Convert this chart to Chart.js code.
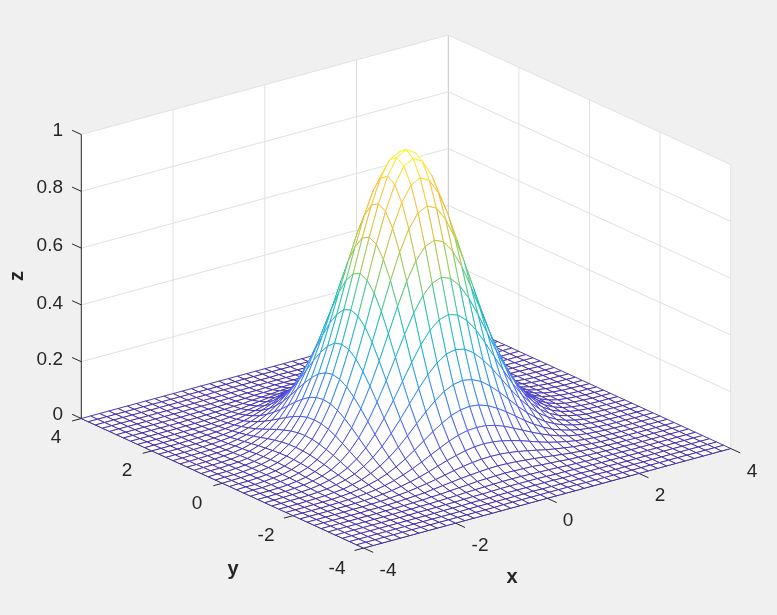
<!DOCTYPE html>
<html><head><meta charset="utf-8">
<style>html,body{margin:0;padding:0;background:#f0f0f0}canvas{display:block}</style>
<script src="https://cdn.jsdelivr.net/npm/chart.js@4"></script>
</head><body><canvas id="c" width="777" height="615"></canvas>
<script>
const xGrid=[-4,-3.8,-3.6,-3.4,-3.2,-3,-2.8,-2.6,-2.4,-2.2,-2,-1.8,-1.6,-1.4,-1.2,-1,-.8,-.6,-.4,-.2,0,.2,.4,.6,.8,1,1.2,1.4,1.6,1.8,2,2.2,2.4,2.6,2.8,3,3.2,3.4,3.6,3.8,4];
const yGrid=[-4,-3.8,-3.6,-3.4,-3.2,-3,-2.8,-2.6,-2.4,-2.2,-2,-1.8,-1.6,-1.4,-1.2,-1,-.8,-.6,-.4,-.2,0,.2,.4,.6,.8,1,1.2,1.4,1.6,1.8,2,2.2,2.4,2.6,2.8,3,3.2,3.4,3.6,3.8,4];
const zRows=[
[0,0,0,0,0,0,0,0,0,0,0,0,0,0,0,0,0,0,0,0,0,0,0,0,0,0,0,0,0,0,0,0,0,0,0,0,0,0,0,0,0],
[0,0,0,0,0,0,0,0,0,0,0,0,0,0,0,0,.001,.001,.001,.001,.001,.001,.001,.001,.001,0,0,0,0,0,0,0,0,0,0,0,0,0,0,0,0],
[0,0,0,0,0,0,0,0,0,0,0,0,0,.001,.001,.001,.001,.001,.001,.001,.002,.001,.001,.001,.001,.001,.001,.001,0,0,0,0,0,0,0,0,0,0,0,0,0],
[0,0,0,0,0,0,0,0,0,0,0,.001,.001,.001,.002,.002,.002,.003,.003,.003,.003,.003,.003,.003,.002,.002,.002,.001,.001,.001,0,0,0,0,0,0,0,0,0,0,0],
[0,0,0,0,0,0,0,0,0,.001,.001,.001,.002,.002,.003,.004,.004,.005,.006,.006,.006,.006,.006,.005,.004,.004,.003,.002,.002,.001,.001,.001,0,0,0,0,0,0,0,0,0],
[0,0,0,0,0,0,0,0,.001,.001,.002,.002,.003,.004,.005,.007,.008,.009,.010,.011,.011,.011,.010,.009,.008,.007,.005,.004,.003,.002,.002,.001,.001,0,0,0,0,0,0,0,0],
[0,0,0,0,0,0,0,.001,.001,.002,.003,.004,.006,.007,.010,.012,.014,.017,.018,.019,.020,.019,.018,.017,.014,.012,.010,.007,.006,.004,.003,.002,.001,.001,0,0,0,0,0,0,0],
[0,0,0,0,0,0,.001,.001,.002,.003,.005,.007,.009,.013,.017,.021,.025,.028,.031,.033,.034,.033,.031,.028,.025,.021,.017,.013,.009,.007,.005,.003,.002,.001,.001,0,0,0,0,0,0],
[0,0,0,0,0,.001,.001,.002,.003,.005,.008,.011,.016,.021,.027,.034,.041,.047,.052,.055,.056,.055,.052,.047,.041,.034,.027,.021,.016,.011,.008,.005,.003,.002,.001,.001,0,0,0,0,0],
[0,0,0,0,.001,.001,.002,.003,.005,.008,.012,.018,.025,.033,.043,.054,.065,.074,.082,.087,.089,.087,.082,.074,.065,.054,.043,.033,.025,.018,.012,.008,.005,.003,.002,.001,.001,0,0,0,0],
[0,0,0,0,.001,.002,.003,.005,.008,.012,.018,.027,.038,.051,.066,.082,.098,.113,.125,.133,.135,.133,.125,.113,.098,.082,.066,.051,.038,.027,.018,.012,.008,.005,.003,.002,.001,0,0,0,0],
[0,0,0,.001,.001,.002,.004,.007,.011,.018,.027,.039,.055,.074,.096,.120,.144,.165,.183,.194,.198,.194,.183,.165,.144,.120,.096,.074,.055,.039,.027,.018,.011,.007,.004,.002,.001,.001,0,0,0],
[0,0,0,.001,.002,.003,.006,.009,.016,.025,.038,.055,.077,.104,.135,.169,.202,.232,.257,.272,.278,.272,.257,.232,.202,.169,.135,.104,.077,.055,.038,.025,.016,.009,.006,.003,.002,.001,0,0,0],
[0,0,.001,.001,.002,.004,.007,.013,.021,.033,.051,.074,.104,.141,.183,.228,.273,.313,.346,.368,.375,.368,.346,.313,.273,.228,.183,.141,.104,.074,.051,.033,.021,.013,.007,.004,.002,.001,.001,0,0],
[0,0,.001,.002,.003,.005,.010,.017,.027,.043,.066,.096,.135,.183,.237,.295,.353,.407,.449,.477,.487,.477,.449,.407,.353,.295,.237,.183,.135,.096,.066,.043,.027,.017,.010,.005,.003,.002,.001,0,0],
[0,0,.001,.002,.004,.007,.012,.021,.034,.054,.082,.120,.169,.228,.295,.368,.440,.507,.560,.594,.607,.594,.560,.507,.440,.368,.295,.228,.169,.120,.082,.054,.034,.021,.012,.007,.004,.002,.001,0,0],
[0,.001,.001,.002,.004,.008,.014,.025,.041,.065,.098,.144,.202,.273,.353,.440,.527,.607,.670,.712,.726,.712,.670,.607,.527,.440,.353,.273,.202,.144,.098,.065,.041,.025,.014,.008,.004,.002,.001,.001,0],
[0,.001,.001,.003,.005,.009,.017,.028,.047,.074,.113,.165,.232,.313,.407,.507,.607,.698,.771,.819,.835,.819,.771,.698,.607,.507,.407,.313,.232,.165,.113,.074,.047,.028,.017,.009,.005,.003,.001,.001,0],
[0,.001,.001,.003,.006,.010,.018,.031,.052,.082,.125,.183,.257,.346,.449,.560,.670,.771,.852,.905,.923,.905,.852,.771,.670,.560,.449,.346,.257,.183,.125,.082,.052,.031,.018,.010,.006,.003,.001,.001,0],
[0,.001,.001,.003,.006,.011,.019,.033,.055,.087,.133,.194,.272,.368,.477,.594,.712,.819,.905,.961,.980,.961,.905,.819,.712,.594,.477,.368,.272,.194,.133,.087,.055,.033,.019,.011,.006,.003,.001,.001,0],
[0,.001,.002,.003,.006,.011,.020,.034,.056,.089,.135,.198,.278,.375,.487,.607,.726,.835,.923,.980,1,.980,.923,.835,.726,.607,.487,.375,.278,.198,.135,.089,.056,.034,.020,.011,.006,.003,.002,.001,0],
[0,.001,.001,.003,.006,.011,.019,.033,.055,.087,.133,.194,.272,.368,.477,.594,.712,.819,.905,.961,.980,.961,.905,.819,.712,.594,.477,.368,.272,.194,.133,.087,.055,.033,.019,.011,.006,.003,.001,.001,0],
[0,.001,.001,.003,.006,.010,.018,.031,.052,.082,.125,.183,.257,.346,.449,.560,.670,.771,.852,.905,.923,.905,.852,.771,.670,.560,.449,.346,.257,.183,.125,.082,.052,.031,.018,.010,.006,.003,.001,.001,0],
[0,.001,.001,.003,.005,.009,.017,.028,.047,.074,.113,.165,.232,.313,.407,.507,.607,.698,.771,.819,.835,.819,.771,.698,.607,.507,.407,.313,.232,.165,.113,.074,.047,.028,.017,.009,.005,.003,.001,.001,0],
[0,.001,.001,.002,.004,.008,.014,.025,.041,.065,.098,.144,.202,.273,.353,.440,.527,.607,.670,.712,.726,.712,.670,.607,.527,.440,.353,.273,.202,.144,.098,.065,.041,.025,.014,.008,.004,.002,.001,.001,0],
[0,0,.001,.002,.004,.007,.012,.021,.034,.054,.082,.120,.169,.228,.295,.368,.440,.507,.560,.594,.607,.594,.560,.507,.440,.368,.295,.228,.169,.120,.082,.054,.034,.021,.012,.007,.004,.002,.001,0,0],
[0,0,.001,.002,.003,.005,.010,.017,.027,.043,.066,.096,.135,.183,.237,.295,.353,.407,.449,.477,.487,.477,.449,.407,.353,.295,.237,.183,.135,.096,.066,.043,.027,.017,.010,.005,.003,.002,.001,0,0],
[0,0,.001,.001,.002,.004,.007,.013,.021,.033,.051,.074,.104,.141,.183,.228,.273,.313,.346,.368,.375,.368,.346,.313,.273,.228,.183,.141,.104,.074,.051,.033,.021,.013,.007,.004,.002,.001,.001,0,0],
[0,0,0,.001,.002,.003,.006,.009,.016,.025,.038,.055,.077,.104,.135,.169,.202,.232,.257,.272,.278,.272,.257,.232,.202,.169,.135,.104,.077,.055,.038,.025,.016,.009,.006,.003,.002,.001,0,0,0],
[0,0,0,.001,.001,.002,.004,.007,.011,.018,.027,.039,.055,.074,.096,.120,.144,.165,.183,.194,.198,.194,.183,.165,.144,.120,.096,.074,.055,.039,.027,.018,.011,.007,.004,.002,.001,.001,0,0,0],
[0,0,0,0,.001,.002,.003,.005,.008,.012,.018,.027,.038,.051,.066,.082,.098,.113,.125,.133,.135,.133,.125,.113,.098,.082,.066,.051,.038,.027,.018,.012,.008,.005,.003,.002,.001,0,0,0,0],
[0,0,0,0,.001,.001,.002,.003,.005,.008,.012,.018,.025,.033,.043,.054,.065,.074,.082,.087,.089,.087,.082,.074,.065,.054,.043,.033,.025,.018,.012,.008,.005,.003,.002,.001,.001,0,0,0,0],
[0,0,0,0,0,.001,.001,.002,.003,.005,.008,.011,.016,.021,.027,.034,.041,.047,.052,.055,.056,.055,.052,.047,.041,.034,.027,.021,.016,.011,.008,.005,.003,.002,.001,.001,0,0,0,0,0],
[0,0,0,0,0,0,.001,.001,.002,.003,.005,.007,.009,.013,.017,.021,.025,.028,.031,.033,.034,.033,.031,.028,.025,.021,.017,.013,.009,.007,.005,.003,.002,.001,.001,0,0,0,0,0,0],
[0,0,0,0,0,0,0,.001,.001,.002,.003,.004,.006,.007,.010,.012,.014,.017,.018,.019,.020,.019,.018,.017,.014,.012,.010,.007,.006,.004,.003,.002,.001,.001,0,0,0,0,0,0,0],
[0,0,0,0,0,0,0,0,.001,.001,.002,.002,.003,.004,.005,.007,.008,.009,.010,.011,.011,.011,.010,.009,.008,.007,.005,.004,.003,.002,.002,.001,.001,0,0,0,0,0,0,0,0],
[0,0,0,0,0,0,0,0,0,.001,.001,.001,.002,.002,.003,.004,.004,.005,.006,.006,.006,.006,.006,.005,.004,.004,.003,.002,.002,.001,.001,.001,0,0,0,0,0,0,0,0,0],
[0,0,0,0,0,0,0,0,0,0,0,.001,.001,.001,.002,.002,.002,.003,.003,.003,.003,.003,.003,.003,.002,.002,.002,.001,.001,.001,0,0,0,0,0,0,0,0,0,0,0],
[0,0,0,0,0,0,0,0,0,0,0,0,0,.001,.001,.001,.001,.001,.001,.001,.002,.001,.001,.001,.001,.001,.001,.001,0,0,0,0,0,0,0,0,0,0,0,0,0],
[0,0,0,0,0,0,0,0,0,0,0,0,0,0,0,0,.001,.001,.001,.001,.001,.001,.001,.001,.001,0,0,0,0,0,0,0,0,0,0,0,0,0,0,0,0],
[0,0,0,0,0,0,0,0,0,0,0,0,0,0,0,0,0,0,0,0,0,0,0,0,0,0,0,0,0,0,0,0,0,0,0,0,0,0,0,0,0]];
const xTicks=[-4,-2,0,2,4],yTicks=[-4,-2,0,2,4],zTicks=[0,.2,.4,.6,.8,1];
const parula=['#3e26a8','#4852f4','#2d87f7','#17aed5','#1fbfaa','#81cc59','#dcbc32','#fec236','#f9fb15'];
const O=[406,433.5],EX=[45.875,-12.44],EY=[-35.3,-16.19],EZ=[0,-284];
const P=(x,y,z)=>({x:O[0]+x*EX[0]+y*EY[0]+z*EZ[0],y:O[1]+x*EX[1]+y*EY[1]+z*EZ[1],z});
const h=s=>[1,3,5].map(k=>parseInt(s.substr(k,2),16));
function col(z){const t=Math.min(.9999,Math.max(0,z))*8,i=Math.floor(t),f=t-i,a=h(parula[i]),b=h(parula[i+1]);return `rgb(${a.map((v,k)=>Math.round(v+(b[k]-v)*f)).join(',')})`;}
const base={showLine:true,pointRadius:0,pointHoverRadius:0,tension:0,fill:false,borderWidth:1};
const seg=(pts,c,w)=>({...base,data:pts,borderColor:c,borderWidth:w||1,borderCapStyle:'butt'});
const front=[],back=[];
for(let j=0;j<yGrid.length-1;j++)for(let i=0;i<xGrid.length-1;i++){
 const p=[[i,j],[i+1,j],[i+1,j+1],[i,j+1],[i,j]].map(([a,b])=>P(xGrid[a],yGrid[b],zRows[b][a]));
 front.push({...base,data:p,paneFill:'#fff',borderColor:col(p[0].z),borderWidth:.9,
  segment:{borderColor:c=>col((c.p0.raw.z+c.p1.raw.z)/2)}});
}
const X0=-4,X1=4,Y0=-4,Y1=4;
const axisC='#262626',gridC='#e0e0e0';
back.push(seg([P(X0,Y1,0),P(X0,Y1,1)],axisC));
back.push(seg([P(X0,Y1,0),P(X0,Y0,0)],axisC));
back.push(seg([P(X0,Y0,0),P(X1,Y0,0)],axisC));
for(const z of zTicks)back.push(seg([P(X0,Y1,z),P(X0,Y1+.26,z)],axisC));
for(const y of yTicks)back.push(seg([P(X0,y,0),P(X0-.2,y,0)],axisC));
for(const x of xTicks)back.push(seg([P(x,Y0,0),P(x,Y0-.27,0)],axisC));
for(const z of zTicks){back.push(seg([P(X0,Y1,z),P(X1,Y1,z)],gridC));back.push(seg([P(X1,Y1,z),P(X1,Y0,z)],gridC));}
for(const x of xTicks.slice(1,-1))back.push(seg([P(x,Y1,0),P(x,Y1,1)],gridC));
for(const y of yTicks.slice(1,-1))back.push(seg([P(X1,y,0),P(X1,y,1)],gridC));
back.push(seg([P(X1,Y0,0),P(X1,Y0,1)],gridC));
back.push(seg([P(X1,Y1,0),P(X1,Y1,1)],'#c4c4c4'));
back.push({...base,data:[P(X0,Y1,0),P(X0,Y1,1),P(X1,Y1,1),P(X1,Y0,1),P(X1,Y0,0),P(X0,Y0,0),P(X0,Y1,0)],paneFill:'#fff',borderWidth:0,borderColor:'#fff'});
const labels=[
 ...[['1',131],['0.8',188],['0.6',246],['0.4',304],['0.2',360],['0',415]].map(([t,y])=>[t,63,y,'right']),
 ...[['4',56,438],['2',127,471],['0',197,504],['-2',266,536],['-4',337,569]].map(a=>[...a,'center']),
 ...[['-4',388,571],['-2',480,546],['0',568,521],['2',660,496],['4',752,472]].map(a=>[...a,'center'])];
const paneFill={id:'paneFill',beforeDatasetDraw(ch,args){const ds=ch.data.datasets[args.index];if(!ds.paneFill)return;const c=ch.ctx,pts=args.meta.data;c.save();c.beginPath();pts.forEach((p,k)=>k?c.lineTo(p.x,p.y):c.moveTo(p.x,p.y));c.closePath();c.fillStyle=ds.paneFill;c.fill();c.restore();}};
const textPlugin={id:'t',afterDraw(ch){const c=ch.ctx,sx=ch.scales.x,sy=ch.scales.y;c.save();c.fillStyle='#262626';c.textBaseline='middle';c.font='19px "Liberation Sans"';
 for(const [t,x,y,a] of labels){c.textAlign=a;c.fillText(t,sx.getPixelForValue(x),sy.getPixelForValue(y));}
 c.font='bold 20px "Liberation Sans"';c.textAlign='center';
 c.fillText('y',sx.getPixelForValue(233),sy.getPixelForValue(569));c.fillText('x',sx.getPixelForValue(512),sy.getPixelForValue(577));
 c.translate(sx.getPixelForValue(17),sy.getPixelForValue(276));c.rotate(-Math.PI/2);c.fillText('z',0,0);c.restore();}};
new Chart(document.getElementById('c'),{type:'scatter',data:{datasets:[...front,...back]},plugins:[paneFill,textPlugin],
 options:{responsive:false,animation:false,events:[],layout:{padding:0},plugins:{legend:{display:false},tooltip:{enabled:false},title:{display:false}},
 scales:{x:{type:'linear',display:false,min:0,max:777},y:{type:'linear',display:false,min:0,max:615,reverse:true}}}});
</script></body></html>
